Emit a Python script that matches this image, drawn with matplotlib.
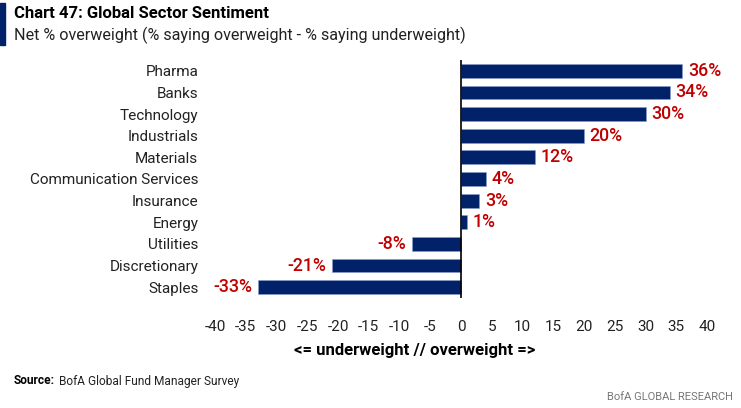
import matplotlib
matplotlib.use("Agg")
import matplotlib.pyplot as plt
from matplotlib.patches import Rectangle

categories = ["Pharma", "Banks", "Technology", "Industrials", "Materials",
              "Communication Services", "Insurance", "Energy", "Utilities",
              "Discretionary", "Staples"]
values = [36, 34, 30, 20, 12, 4, 3, 1, -8, -21, -33]
xticks = list(range(-40, 45, 5))

NAVY = "#012169"
RED = "#C00000"
FONT = ["Roboto", "DejaVu Sans"]
plt.rcParams["font.family"] = FONT

W, H = 741, 408
fig = plt.figure(figsize=(W / 100, H / 100), dpi=100)
ax = fig.add_axes([215 / W, 1 - 298 / H, (707 - 215) / W, (298 - 60) / H])

y = list(range(len(categories)))
ax.barh(y, values, height=0.64, color=NAVY, edgecolor="#8a9ccf", linewidth=0.4, zorder=2)
ax.set_ylim(len(categories) - 0.5, -0.5)
ax.set_xlim(-40, 40)
ax.axvline(0, color="black", linewidth=1.2, zorder=3)

for yi, v in zip(y, values):
    if v >= 0:
        ax.annotate(f"{v}%", (v, yi), xytext=(4, 0), textcoords="offset points",
                    ha="left", va="center", color=RED, fontsize=12.8, fontweight="medium")
    else:
        ax.annotate(f"{v}%", (v, yi), xytext=(-4, 0), textcoords="offset points",
                    ha="right", va="center", color=RED, fontsize=12.8, fontweight="medium")

ax.set_yticks(y)
ax.set_yticklabels(categories, fontsize=11, color="#222222")
ax.set_xticks(xticks)
ax.set_xticklabels([str(t) for t in xticks], fontsize=11, color="#222222")
ax.tick_params(axis="y", length=0, pad=12)
ax.tick_params(axis="x", length=0, pad=16)
for s in ax.spines.values():
    s.set_visible(False)

fig.text(415 / W, 1 - 351 / H, "<= underweight // overweight =>", ha="center", va="center",
         fontsize=12, fontweight="bold", color="black")

# header
fig.patches.append(Rectangle((0, 1 - 45 / H), 5 / W, 42 / H, transform=fig.transFigure,
                             color=NAVY, zorder=5))
fig.text(14 / W, 1 - 14 / H, "Chart 47: Global Sector Sentiment", ha="left", va="center",
         fontsize=12, fontweight="bold", color="black")
fig.text(14 / W, 1 - 35 / H, "Net % overweight (% saying overweight - % saying underweight)",
         ha="left", va="center", fontsize=11.6, color="#222222")

fig.text(14 / W, 1 - 381 / H, "Source:", ha="left", va="center",
         fontsize=8.6, fontweight="bold", color="black")
fig.text(59 / W, 1 - 381 / H, "BofA Global Fund Manager Survey", ha="left", va="center",
         fontsize=8.6, color="#222222")
fig.text(733 / W, 1 - 397 / H, "BofA GLOBAL RESEARCH", ha="right", va="center",
         fontsize=8, color="#777777")

fig.savefig("out.png", dpi=100)
